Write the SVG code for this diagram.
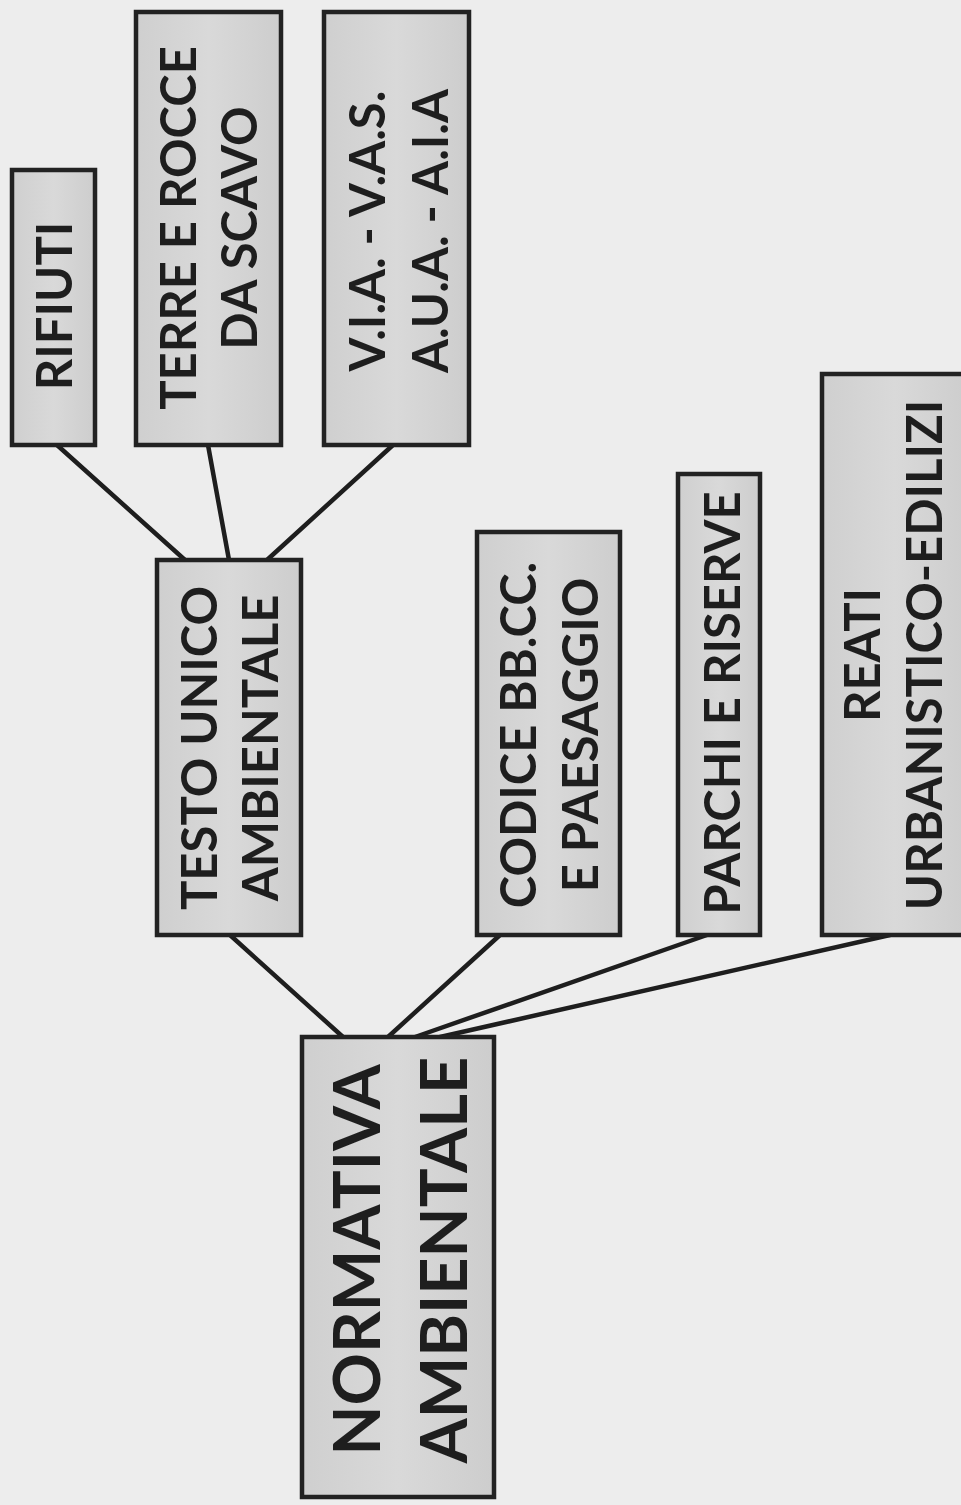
<svg xmlns="http://www.w3.org/2000/svg" width="961" height="1505" viewBox="0 0 961 1505">
<defs>
<linearGradient id="boxfill" x1="0" y1="0" x2="1" y2="0">
<stop offset="0" stop-color="#cfcfcf"/>
<stop offset="0.5" stop-color="#d9d9d9"/>
<stop offset="1" stop-color="#cdcdcd"/>
</linearGradient>
</defs>
<style>
.box{fill:url(#boxfill);stroke:#222;stroke-width:4.5}
.lbl{font-family:Lato,"Open Sans","Liberation Sans",sans-serif;font-weight:bold;font-size:49px;fill:#1e1e1e;text-anchor:middle}
.big{font-size:65px}
.conn line{stroke:#1e1e1e;stroke-width:4.5;stroke-linecap:round}
</style>
<rect x="0" y="0" width="961" height="1505" fill="#ededed"/>
<g class="conn" id="connectors">
<line x1="343" y1="1037" x2="230" y2="935"/>
<line x1="388" y1="1037" x2="500" y2="935"/>
<line x1="415" y1="1037" x2="707" y2="935"/>
<line x1="440" y1="1037" x2="890" y2="935"/>
<line x1="185" y1="560" x2="57" y2="445"/>
<line x1="229" y1="560" x2="208" y2="445"/>
<line x1="267" y1="560" x2="393" y2="445"/>
</g>
<g id="normativa">
<rect class="box" x="302" y="1037" width="192" height="460"/>
<text class="lbl big" transform="translate(0,1260) rotate(-90)"><tspan x="0" y="380">NORMATIVA</tspan><tspan x="0" y="467">AMBIENTALE</tspan></text>
</g>
<g id="testo">
<rect class="box" x="157" y="560" width="144" height="375"/>
<text class="lbl" transform="translate(0,748) rotate(-90)"><tspan x="0" y="217">TESTO UNICO</tspan><tspan x="0" y="278">AMBIENTALE</tspan></text>
</g>
<g id="codice">
<rect class="box" x="477" y="532" width="143" height="403"/>
<text class="lbl" transform="translate(0,735) rotate(-90)"><tspan x="0" y="536">CODICE BB.CC.</tspan><tspan x="0" y="598">E PAESAGGIO</tspan></text>
</g>
<g id="parchi">
<rect class="box" x="678" y="474" width="82" height="461"/>
<text class="lbl" transform="translate(0,703) rotate(-90)"><tspan x="0" y="740">PARCHI E RISERVE</tspan></text>
</g>
<g id="reati">
<rect class="box" x="822" y="374" width="146" height="561"/>
<text class="lbl" transform="translate(0,655) rotate(-90)"><tspan x="0" y="880">REATI</tspan><tspan x="0" y="942">URBANISTICO-EDILIZI</tspan></text>
</g>
<g id="rifiuti">
<rect class="box" x="12" y="170" width="83" height="275"/>
<text class="lbl" transform="translate(0,306) rotate(-90)"><tspan x="0" y="72">RIFIUTI</tspan></text>
</g>
<g id="terre">
<rect class="box" x="136" y="12" width="145" height="433"/>
<text class="lbl" transform="translate(0,228) rotate(-90)"><tspan x="0" y="196">TERRE E ROCCE</tspan><tspan x="0" y="257">DA SCAVO</tspan></text>
</g>
<g id="via">
<rect class="box" x="324" y="12" width="145" height="433"/>
<text class="lbl" transform="translate(0,231) rotate(-90)"><tspan x="0" y="385">V.I.A. - V.A.S.</tspan><tspan x="0" y="448">A.U.A. - A.I.A</tspan></text>
</g>
</svg>
